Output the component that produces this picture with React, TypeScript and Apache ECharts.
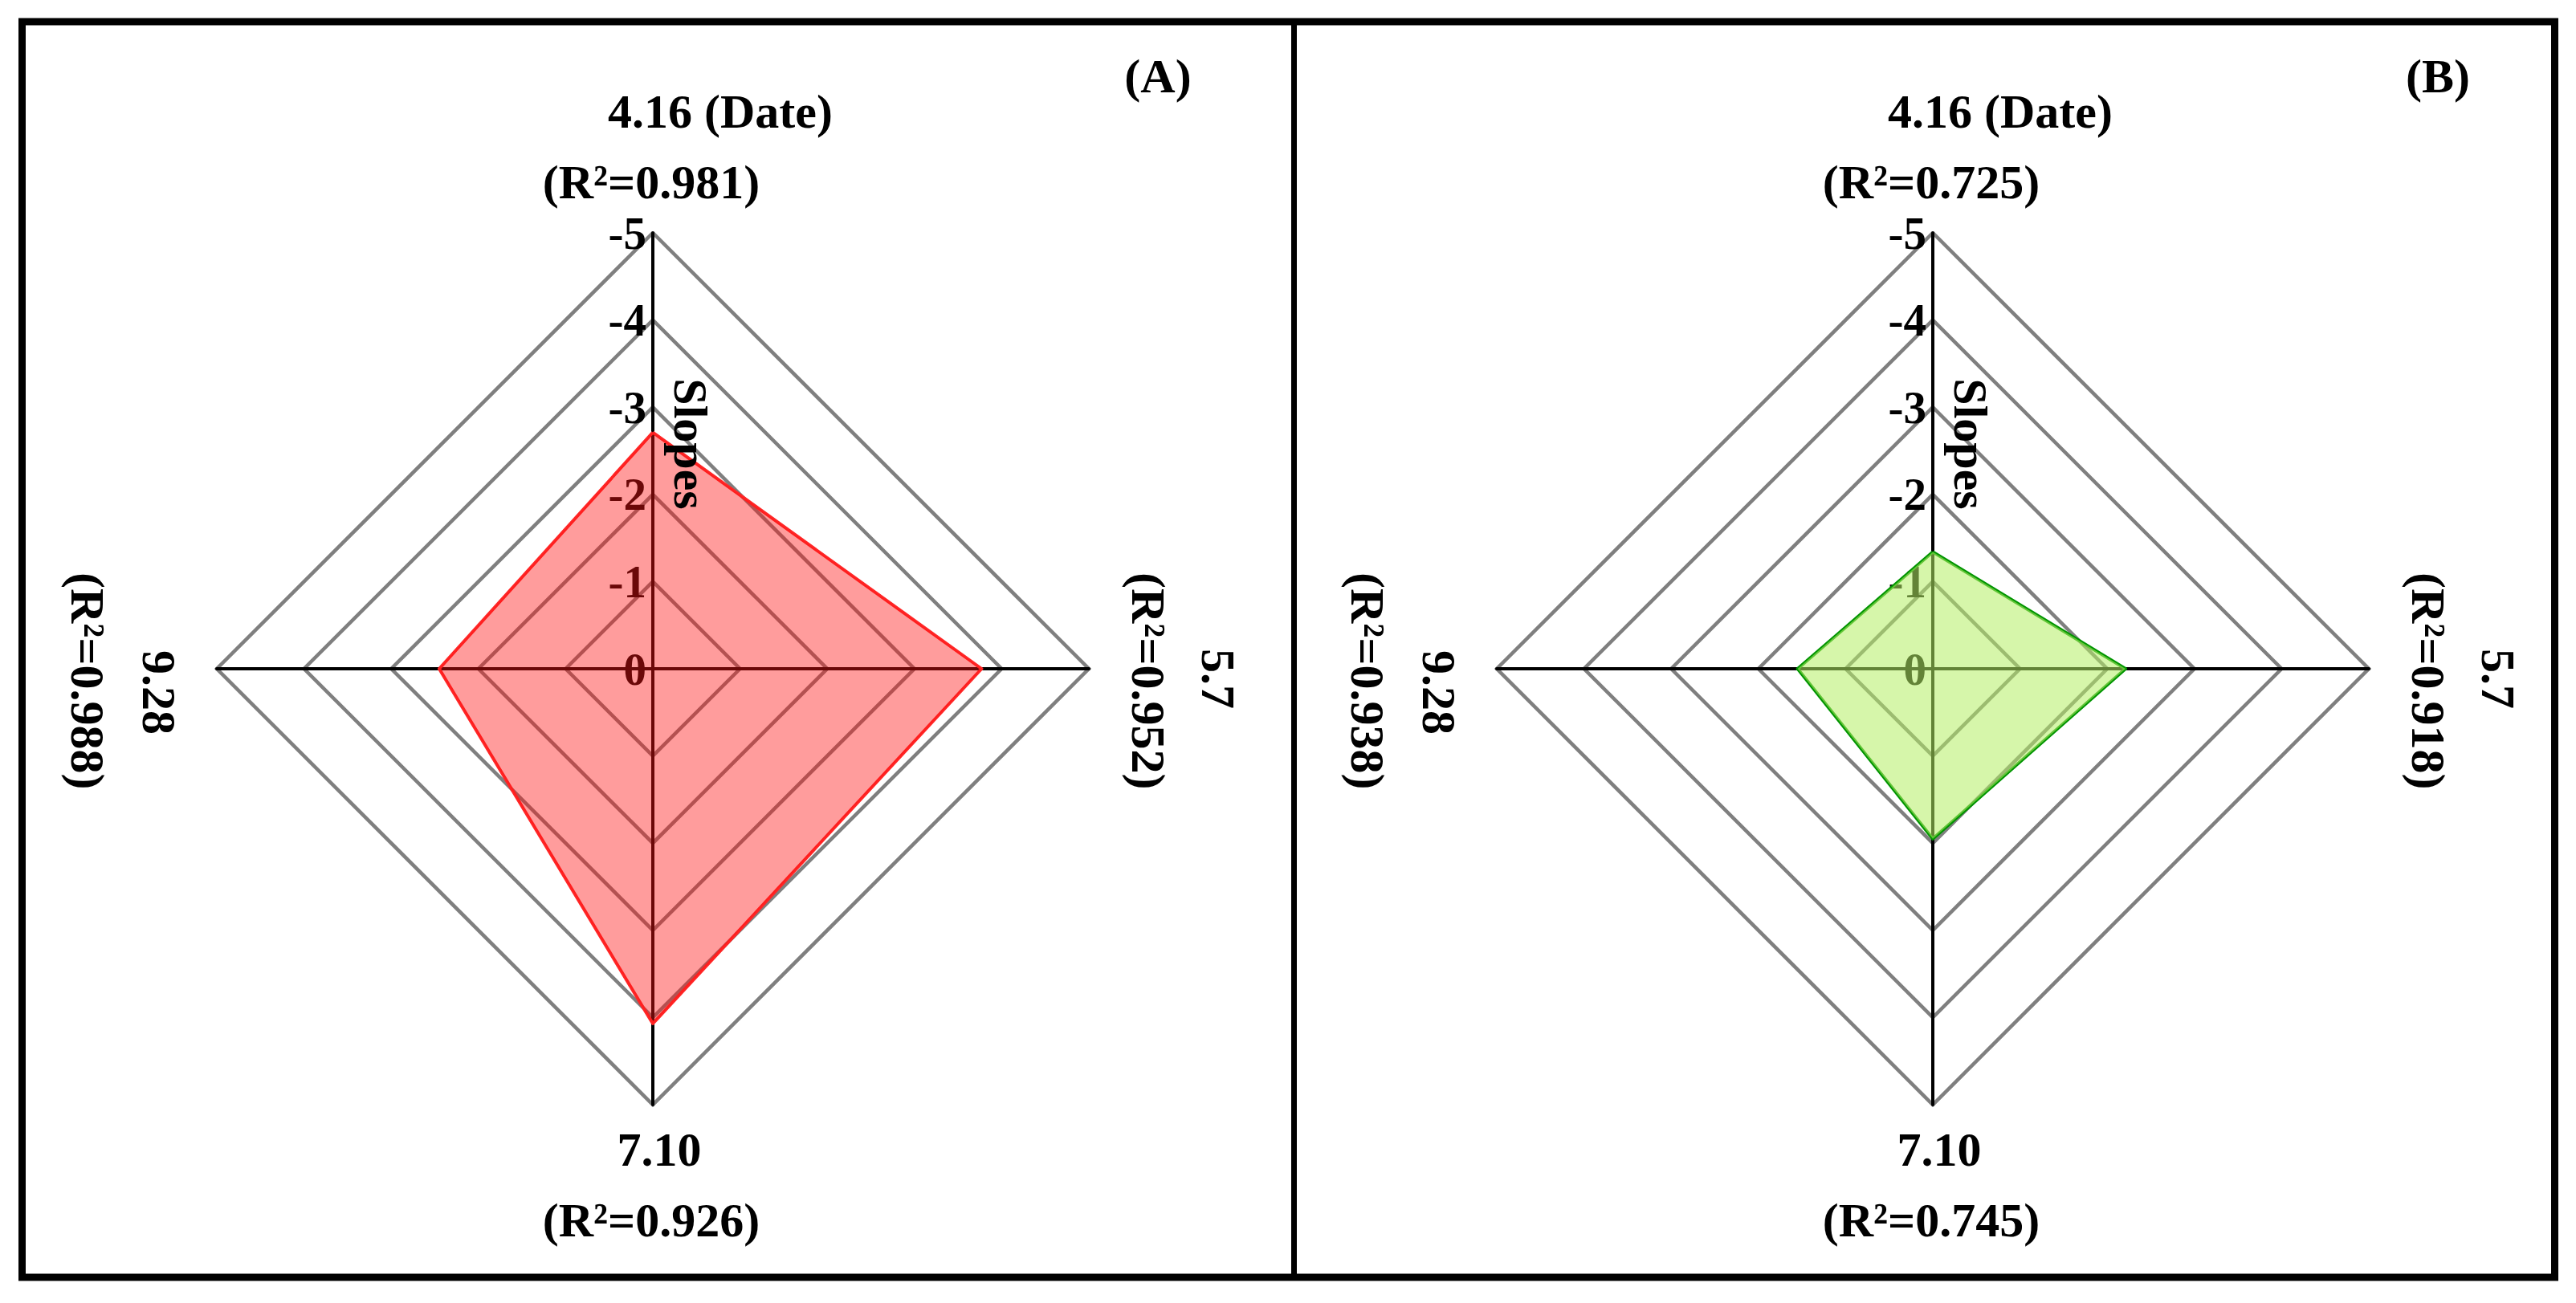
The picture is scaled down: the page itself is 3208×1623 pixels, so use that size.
import React, { useEffect, useRef } from 'react';
import * as echarts from 'echarts';

// axis order in the source figure: top, right, bottom, left
const dates = ['4.16', '5.7', '7.10', '9.28'];
const r2A = ['0.981', '0.952', '0.926', '0.988'];
const r2B = ['0.725', '0.918', '0.745', '0.938'];
const slopesA = [-2.71, -3.77, -4.07, -2.45];
const slopesB = [-1.34, -2.21, -1.95, -1.55];
const tickLabels = ['0', '-1', '-2', '-3', '-4', '-5'];
const panelLabels = ['(A)', '(B)'];
const axisTitle = 'Slopes';

// ECharts radar goes counter-clockwise: top, left, bottom, right
const radarOrder = [0, 3, 2, 1];

const FONT = "'Liberation Serif', 'Times New Roman', serif";
const W = 3208;
const H = 1623;
const CENTERS = [813, 2407];
const CY = 833;
const RADIUS = 543;

function txt(text: string, x: number, y: number, opts: any = {}) {
  return {
    type: 'text',
    x,
    y,
    rotation: opts.rotation || 0,
    z: 10,
    style: {
      text,
      fill: '#000',
      fontFamily: FONT,
      fontWeight: 'bold',
      fontSize: opts.fontSize || 60,
      align: opts.align || 'center',
      verticalAlign: 'middle',
    },
  };
}

export default function App() {
  const ref = useRef<HTMLDivElement>(null);
  useEffect(() => {
    if (!ref.current) return;
    const chart = echarts.init(ref.current, undefined, { renderer: 'svg' });

    const radars = CENTERS.map((cx) => ({
      center: [cx, CY],
      radius: RADIUS,
      startAngle: 90,
      shape: 'polygon',
      splitNumber: 5,
      axisName: { show: false },
      axisLine: { show: true, lineStyle: { color: '#000', width: 4 } },
      axisTick: { show: false },
      axisLabel: { show: false },
      splitLine: { show: true, lineStyle: { color: '#7f7f7f', width: 4.5 } },
      splitArea: { show: false },
      indicator: radarOrder.map((k, i) => ({
        name: dates[k],
        min: 0,
        max: 5,
        ...(i === 0
          ? {
              axisLabel: {
                show: true,
                color: '#000',
                fontFamily: FONT,
                fontWeight: 'bold',
                fontSize: 57,
                margin: 8,
                formatter: (v: number) => tickLabels[Math.round(v)] ?? String(-v),
              },
            }
          : {}),
      })),
    }));

    const series = [
      {
        type: 'radar',
        radarIndex: 0,
        symbol: 'none',
        silent: true,
        lineStyle: { color: '#FF2626', width: 4 },
        areaStyle: { color: 'rgba(255,20,20,0.42)', opacity: 1 },
        data: [{ value: radarOrder.map((k) => -slopesA[k]), name: 'A' }],
      },
      {
        type: 'radar',
        radarIndex: 1,
        symbol: 'none',
        silent: true,
        lineStyle: { color: '#009400', width: 4 },
        areaStyle: { color: 'rgba(180,238,100,0.55)', opacity: 1 },
        data: [{ value: radarOrder.map((k) => -slopesB[k]), name: 'B' }],
      },
    ];

    const graphics: any[] = [
      {
        type: 'rect',
        shape: { x: 27.5, y: 27, width: 3154, height: 1564 },
        style: { fill: 'none', stroke: '#000', lineWidth: 9 },
        z: 5,
      },
      {
        type: 'line',
        shape: { x1: 1611.5, y1: 27, x2: 1611.5, y2: 1591 },
        style: { stroke: '#000', lineWidth: 7 },
        z: 5,
      },
    ];

    const r2s = [r2A, r2B];
    const ROT = -Math.PI / 2;
    CENTERS.forEach((cx, p) => {
      const r2 = r2s[p];
      graphics.push(txt(panelLabels[p], cx + 629, 95));
      // top
      graphics.push(txt(`${dates[0]} (Date)`, cx - 56, 139, { align: 'left' }));
      graphics.push(txt(`(R²=${r2[0]})`, cx - 2, 227));
      // right
      graphics.push(txt(dates[1], cx + 704, CY - 25, { align: 'left', rotation: ROT }));
      graphics.push(txt(`(R²=${r2[1]})`, cx + 617, CY - 120, { align: 'left', rotation: ROT }));
      // bottom
      graphics.push(txt(dates[2], cx + 8, 1432));
      graphics.push(txt(`(R²=${r2[2]})`, cx - 2, 1520));
      // left
      graphics.push(txt(dates[3], cx - 615, CY - 23, { align: 'left', rotation: ROT }));
      graphics.push(txt(`(R²=${r2[3]})`, cx - 704, CY - 120, { align: 'left', rotation: ROT }));
      // axis title
      graphics.push(txt(axisTitle, cx + 47, 553, { rotation: ROT }));
    });

    chart.setOption({
      animation: false,
      backgroundColor: '#fff',
      radar: radars,
      series,
      graphic: { elements: graphics },
    });

    return () => chart.dispose();
  }, []);

  return (
    <div
      ref={ref}
      style={{ position: 'fixed', left: 0, top: 0, width: W, height: H, background: '#fff' }}
    />
  );
}
